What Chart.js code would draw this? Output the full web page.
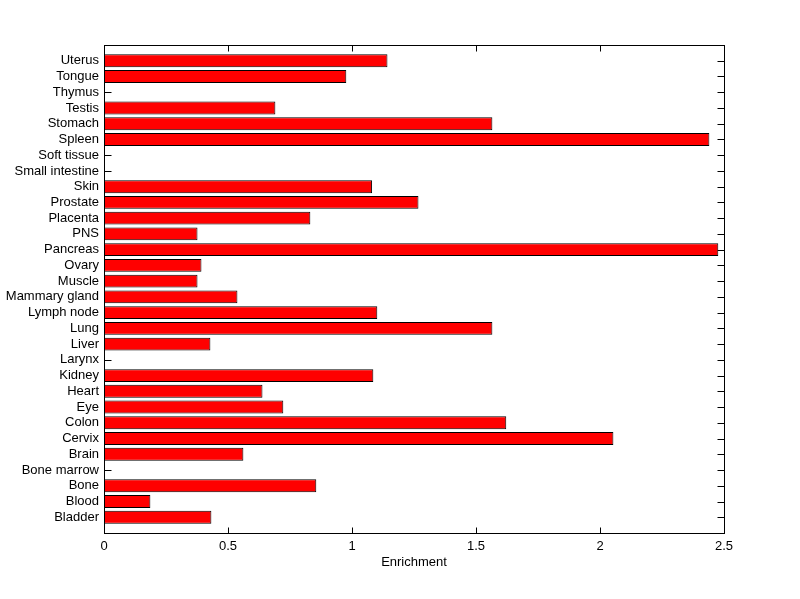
<!DOCTYPE html>
<html>
<head>
<meta charset="utf-8">
<script src="https://cdn.jsdelivr.net/npm/chart.js@4"></script>
<style>
  body { margin: 0; background: #fff; }
  #wrap { width: 800px; height: 599px; }
</style>
</head>
<body>
<div id="wrap"><canvas id="myChart"></canvas></div>
<script>
// tissues, bottom to top (as on the y axis)
var tissues = ['Bladder','Blood','Bone','Bone marrow','Brain','Cervix','Colon','Eye','Heart','Kidney',
  'Larynx','Liver','Lung','Lymph node','Mammary gland','Muscle','Ovary','Pancreas','PNS','Placenta',
  'Prostate','Skin','Small intestine','Soft tissue','Spleen','Stomach','Testis','Thymus','Tongue','Uterus'];
var enrichment = [0.433,0.187,0.856,0,0.562,2.054,1.622,0.723,0.639,1.086,
  0,0.429,1.566,1.102,0.538,0.377,0.393,2.477,0.377,0.832,
  1.268,1.081,0,0,2.441,1.566,0.691,0,0.977,1.143];
var xTicks = [0,0.5,1,1.5,2,2.5];

var points = [];
for (var i = 0; i < tissues.length; i++) {
  points.push({x: enrichment[i], y: i + 1});
}

// inward tick marks go under the bars, the box goes on top, like the matlab figure
var frame = {
  id: 'frame',
  beforeDatasetsDraw: function(chart) {
    var ctx = chart.ctx, a = chart.chartArea;
    var xs = chart.scales.x, ys = chart.scales.y;
    var L = Math.round(a.left) + 0.5, R = Math.round(a.right) + 0.5;
    var T = Math.round(a.top) + 0.5, B = Math.round(a.bottom) + 0.5;
    ctx.save();
    ctx.strokeStyle = '#000';
    ctx.lineWidth = 1;
    ctx.beginPath();
    xs.ticks.forEach(function(t) {
      var px = Math.round(xs.getPixelForValue(t.value)) + 0.5;
      ctx.moveTo(px, B); ctx.lineTo(px, B - 6);
      ctx.moveTo(px, T); ctx.lineTo(px, T + 6);
    });
    ys.ticks.forEach(function(t) {
      var py = Math.round(ys.getPixelForValue(t.value)) + 0.5;
      ctx.moveTo(L, py); ctx.lineTo(L + 7, py);
      ctx.moveTo(R, py); ctx.lineTo(R - 7, py);
    });
    ctx.stroke();
    ctx.restore();
  },
  afterDraw: function(chart) {
    var ctx = chart.ctx, a = chart.chartArea;
    var L = Math.round(a.left) + 0.5, R = Math.round(a.right) + 0.5;
    var T = Math.round(a.top) + 0.5, B = Math.round(a.bottom) + 0.5;
    ctx.save();
    ctx.strokeStyle = '#000';
    ctx.lineWidth = 1;
    ctx.strokeRect(L, T, R - L, B - T);
    ctx.restore();
  }
};

var font = {family: "'Liberation Sans', Arial, sans-serif", size: 13};

var ctx = document.getElementById('myChart');
var myChart = new Chart(ctx, {
  type: 'bar',
  data: {
    datasets: [{
      data: points,
      backgroundColor: '#ff0000',
      borderColor: '#000000',
      borderWidth: 1,
      borderSkipped: false,
      barPercentage: 0.82,
      categoryPercentage: 1
    }]
  },
  options: {
    indexAxis: 'y',
    responsive: true,
    maintainAspectRatio: false,
    animation: false,
    layout: { padding: {top: 45, right: 76, left: 0, bottom: 0} },
    plugins: {
      legend: { display: false },
      tooltip: { enabled: false }
    },
    scales: {
      x: {
        type: 'linear',
        min: 0,
        max: 2.5,
        grid: { display: false, drawTicks: false },
        border: { display: false },
        afterBuildTicks: function(scale) {
          scale.ticks = xTicks.map(function(v){ return {value: v}; });
        },
        afterFit: function(scale) { scale.height = 66; },
        ticks: { color: '#000', font: font, padding: 6, maxRotation: 0,
          callback: function(v){ return String(v); } },
        title: { display: true, text: 'Enrichment', color: '#000', font: font,
          padding: {top: 0, bottom: 29} }
      },
      y: {
        type: 'linear',
        min: 0,
        max: tissues.length + 1,
        offset: false,
        grid: { display: false, drawTicks: false, offset: false },
        border: { display: false },
        afterBuildTicks: function(scale) {
          scale.ticks = tissues.map(function(c, i){ return {value: i + 1}; });
        },
        afterFit: function(scale) { scale.width = 104; },
        ticks: { color: '#000', font: font, padding: 5, autoSkip: false,
          callback: function(v){ return tissues[v - 1]; } }
      }
    }
  },
  plugins: [frame]
});
</script>
</body>
</html>
